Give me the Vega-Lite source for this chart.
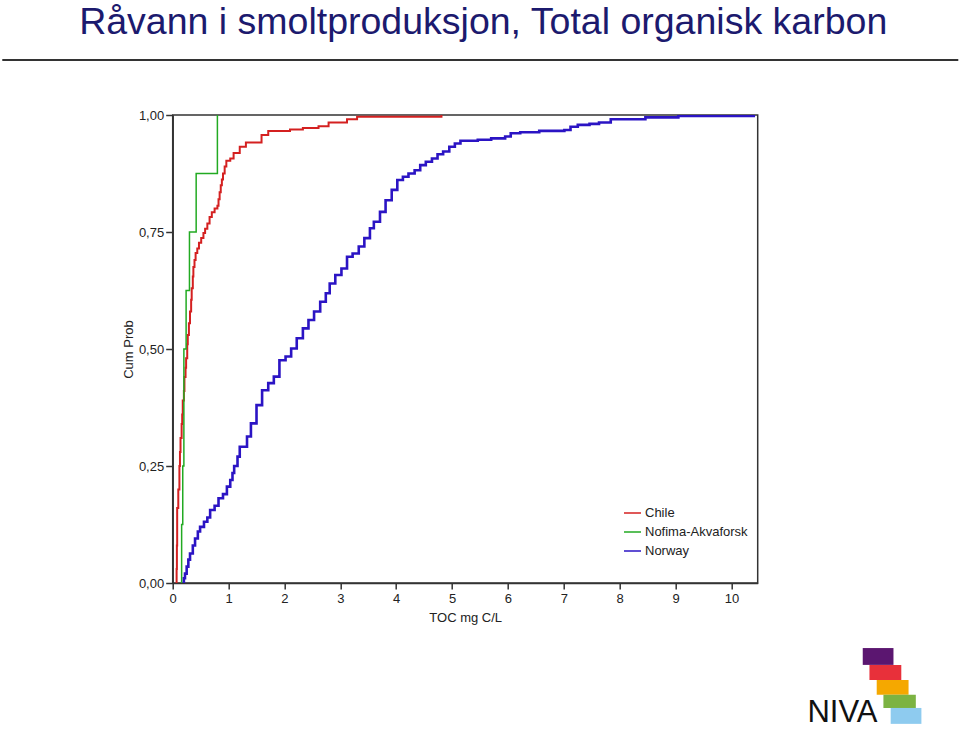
{
  "$schema": "https://vega.github.io/schema/vega-lite/v6.json",
  "width": 585,
  "height": 468,
  "autosize": {"type": "none"},
  "padding": {"left": 172.7, "top": 115, "right": 202.3, "bottom": 150},
  "background": "white",
  "data": {"values": [{}]},
  "config": {
    "font": "Liberation Sans",
    "view": {"stroke": "#333333", "strokeWidth": 1.5},
    "axis": {
      "labelFont": "Liberation Sans",
      "titleFont": "Liberation Sans",
      "labelFontSize": 13,
      "titleFontSize": 13,
      "titleFontWeight": "normal",
      "labelColor": "#222222",
      "titleColor": "#222222",
      "tickColor": "#333333",
      "domainColor": "#333333",
      "domainWidth": 1.5,
      "tickWidth": 1.5,
      "grid": false
    }
  },
  "title": {
    "text": "Råvann i smoltproduksjon, Total organisk karbon",
    "font": "Liberation Sans",
    "fontSize": 37.5,
    "fontWeight": "normal",
    "color": "#1c1a6e",
    "anchor": "middle",
    "frame": "group",
    "dx": 18,
    "dy": 31,
    "offset": 19,
    "baseline": "alphabetic"
  },
  "datasets": {
    "ecdf": [
      {"series": "Chile", "toc": 0.07, "cum": 0},
      {"series": "Chile", "toc": 0.07, "cum": 0.03},
      {"series": "Chile", "toc": 0.075, "cum": 0.08},
      {"series": "Chile", "toc": 0.08, "cum": 0.16},
      {"series": "Chile", "toc": 0.10, "cum": 0.20},
      {"series": "Chile", "toc": 0.12, "cum": 0.25},
      {"series": "Chile", "toc": 0.13, "cum": 0.28},
      {"series": "Chile", "toc": 0.14, "cum": 0.31},
      {"series": "Chile", "toc": 0.16, "cum": 0.34},
      {"series": "Chile", "toc": 0.17, "cum": 0.36},
      {"series": "Chile", "toc": 0.18, "cum": 0.39},
      {"series": "Chile", "toc": 0.20, "cum": 0.41},
      {"series": "Chile", "toc": 0.21, "cum": 0.44},
      {"series": "Chile", "toc": 0.23, "cum": 0.46},
      {"series": "Chile", "toc": 0.24, "cum": 0.48},
      {"series": "Chile", "toc": 0.26, "cum": 0.51},
      {"series": "Chile", "toc": 0.27, "cum": 0.53},
      {"series": "Chile", "toc": 0.29, "cum": 0.555},
      {"series": "Chile", "toc": 0.31, "cum": 0.58},
      {"series": "Chile", "toc": 0.33, "cum": 0.605},
      {"series": "Chile", "toc": 0.34, "cum": 0.63},
      {"series": "Chile", "toc": 0.36, "cum": 0.655},
      {"series": "Chile", "toc": 0.37, "cum": 0.675},
      {"series": "Chile", "toc": 0.39, "cum": 0.69},
      {"series": "Chile", "toc": 0.41, "cum": 0.705},
      {"series": "Chile", "toc": 0.44, "cum": 0.715},
      {"series": "Chile", "toc": 0.47, "cum": 0.727},
      {"series": "Chile", "toc": 0.51, "cum": 0.737},
      {"series": "Chile", "toc": 0.55, "cum": 0.748},
      {"series": "Chile", "toc": 0.58, "cum": 0.757},
      {"series": "Chile", "toc": 0.62, "cum": 0.768},
      {"series": "Chile", "toc": 0.66, "cum": 0.782},
      {"series": "Chile", "toc": 0.70, "cum": 0.792},
      {"series": "Chile", "toc": 0.75, "cum": 0.80},
      {"series": "Chile", "toc": 0.80, "cum": 0.806},
      {"series": "Chile", "toc": 0.82, "cum": 0.82},
      {"series": "Chile", "toc": 0.84, "cum": 0.835},
      {"series": "Chile", "toc": 0.86, "cum": 0.85},
      {"series": "Chile", "toc": 0.88, "cum": 0.862},
      {"series": "Chile", "toc": 0.90, "cum": 0.875},
      {"series": "Chile", "toc": 0.93, "cum": 0.89},
      {"series": "Chile", "toc": 0.96, "cum": 0.902},
      {"series": "Chile", "toc": 1.03, "cum": 0.907},
      {"series": "Chile", "toc": 1.09, "cum": 0.919},
      {"series": "Chile", "toc": 1.20, "cum": 0.932},
      {"series": "Chile", "toc": 1.31, "cum": 0.941},
      {"series": "Chile", "toc": 1.59, "cum": 0.957},
      {"series": "Chile", "toc": 1.71, "cum": 0.966},
      {"series": "Chile", "toc": 2.10, "cum": 0.969},
      {"series": "Chile", "toc": 2.33, "cum": 0.972},
      {"series": "Chile", "toc": 2.61, "cum": 0.976},
      {"series": "Chile", "toc": 2.79, "cum": 0.984},
      {"series": "Chile", "toc": 3.12, "cum": 0.991},
      {"series": "Chile", "toc": 3.30, "cum": 0.996},
      {"series": "Chile", "toc": 4.81, "cum": 1.0},
      {"series": "Nofima-Akvaforsk", "toc": 0.16, "cum": 0},
      {"series": "Nofima-Akvaforsk", "toc": 0.16, "cum": 0.125},
      {"series": "Nofima-Akvaforsk", "toc": 0.18, "cum": 0.25},
      {"series": "Nofima-Akvaforsk", "toc": 0.20, "cum": 0.5},
      {"series": "Nofima-Akvaforsk", "toc": 0.24, "cum": 0.625},
      {"series": "Nofima-Akvaforsk", "toc": 0.30, "cum": 0.75},
      {"series": "Nofima-Akvaforsk", "toc": 0.42, "cum": 0.875},
      {"series": "Nofima-Akvaforsk", "toc": 0.80, "cum": 1.0},
      {"series": "Norway", "toc": 0.18, "cum": 0},
      {"series": "Norway", "toc": 0.20, "cum": 0.01},
      {"series": "Norway", "toc": 0.22, "cum": 0.02},
      {"series": "Norway", "toc": 0.25, "cum": 0.035},
      {"series": "Norway", "toc": 0.28, "cum": 0.05},
      {"series": "Norway", "toc": 0.31, "cum": 0.063},
      {"series": "Norway", "toc": 0.36, "cum": 0.08},
      {"series": "Norway", "toc": 0.40, "cum": 0.095},
      {"series": "Norway", "toc": 0.45, "cum": 0.11},
      {"series": "Norway", "toc": 0.49, "cum": 0.12},
      {"series": "Norway", "toc": 0.56, "cum": 0.131},
      {"series": "Norway", "toc": 0.62, "cum": 0.14},
      {"series": "Norway", "toc": 0.67, "cum": 0.156},
      {"series": "Norway", "toc": 0.75, "cum": 0.165},
      {"series": "Norway", "toc": 0.82, "cum": 0.181},
      {"series": "Norway", "toc": 0.90, "cum": 0.19},
      {"series": "Norway", "toc": 0.97, "cum": 0.206},
      {"series": "Norway", "toc": 1.03, "cum": 0.22},
      {"series": "Norway", "toc": 1.07, "cum": 0.235},
      {"series": "Norway", "toc": 1.10, "cum": 0.25},
      {"series": "Norway", "toc": 1.16, "cum": 0.27},
      {"series": "Norway", "toc": 1.20, "cum": 0.291},
      {"series": "Norway", "toc": 1.33, "cum": 0.313},
      {"series": "Norway", "toc": 1.40, "cum": 0.341},
      {"series": "Norway", "toc": 1.50, "cum": 0.38},
      {"series": "Norway", "toc": 1.60, "cum": 0.412},
      {"series": "Norway", "toc": 1.71, "cum": 0.427},
      {"series": "Norway", "toc": 1.81, "cum": 0.441},
      {"series": "Norway", "toc": 1.91, "cum": 0.476},
      {"series": "Norway", "toc": 2.02, "cum": 0.484},
      {"series": "Norway", "toc": 2.12, "cum": 0.501},
      {"series": "Norway", "toc": 2.22, "cum": 0.523},
      {"series": "Norway", "toc": 2.33, "cum": 0.544},
      {"series": "Norway", "toc": 2.43, "cum": 0.562},
      {"series": "Norway", "toc": 2.53, "cum": 0.58},
      {"series": "Norway", "toc": 2.64, "cum": 0.601},
      {"series": "Norway", "toc": 2.74, "cum": 0.619},
      {"series": "Norway", "toc": 2.81, "cum": 0.64},
      {"series": "Norway", "toc": 2.91, "cum": 0.658},
      {"series": "Norway", "toc": 3.02, "cum": 0.672},
      {"series": "Norway", "toc": 3.12, "cum": 0.697},
      {"series": "Norway", "toc": 3.22, "cum": 0.704},
      {"series": "Norway", "toc": 3.33, "cum": 0.719},
      {"series": "Norway", "toc": 3.43, "cum": 0.737},
      {"series": "Norway", "toc": 3.53, "cum": 0.758},
      {"series": "Norway", "toc": 3.60, "cum": 0.772},
      {"series": "Norway", "toc": 3.71, "cum": 0.793},
      {"series": "Norway", "toc": 3.81, "cum": 0.818},
      {"series": "Norway", "toc": 3.92, "cum": 0.84},
      {"series": "Norway", "toc": 4.02, "cum": 0.861},
      {"series": "Norway", "toc": 4.12, "cum": 0.868},
      {"series": "Norway", "toc": 4.22, "cum": 0.875},
      {"series": "Norway", "toc": 4.33, "cum": 0.882},
      {"series": "Norway", "toc": 4.43, "cum": 0.893},
      {"series": "Norway", "toc": 4.53, "cum": 0.90},
      {"series": "Norway", "toc": 4.64, "cum": 0.907},
      {"series": "Norway", "toc": 4.74, "cum": 0.916},
      {"series": "Norway", "toc": 4.84, "cum": 0.922},
      {"series": "Norway", "toc": 4.95, "cum": 0.932},
      {"series": "Norway", "toc": 5.05, "cum": 0.939},
      {"series": "Norway", "toc": 5.15, "cum": 0.945},
      {"series": "Norway", "toc": 5.46, "cum": 0.947},
      {"series": "Norway", "toc": 5.70, "cum": 0.95},
      {"series": "Norway", "toc": 5.95, "cum": 0.954},
      {"series": "Norway", "toc": 6.05, "cum": 0.961},
      {"series": "Norway", "toc": 6.22, "cum": 0.963},
      {"series": "Norway", "toc": 6.56, "cum": 0.966},
      {"series": "Norway", "toc": 7.01, "cum": 0.968},
      {"series": "Norway", "toc": 7.12, "cum": 0.975},
      {"series": "Norway", "toc": 7.25, "cum": 0.979},
      {"series": "Norway", "toc": 7.46, "cum": 0.981},
      {"series": "Norway", "toc": 7.63, "cum": 0.984},
      {"series": "Norway", "toc": 7.84, "cum": 0.991},
      {"series": "Norway", "toc": 8.46, "cum": 0.995},
      {"series": "Norway", "toc": 9.05, "cum": 0.998},
      {"series": "Norway", "toc": 10.40, "cum": 1.0}
    ]
  },
  "layer": [
    {
      "mark": {"type": "rule", "color": "#333333", "strokeWidth": 2, "clip": false},
      "encoding": {
        "x": {"datum": -3.05, "type": "quantitative", "scale": {"domain": [0, 10.47], "nice": false, "zero": false}},
        "x2": {"datum": 14.06},
        "y": {"datum": 1.1175, "type": "quantitative", "scale": {"domain": [0, 1], "nice": false, "zero": false}}
      }
    },
    {
      "data": {"name": "ecdf"},
      "mark": {"type": "line", "interpolate": "step-after", "clip": true},
      "encoding": {
        "x": {
          "field": "toc",
          "type": "quantitative",
          "scale": {"domain": [0, 10.47], "nice": false, "zero": false},
          "axis": {
            "title": "TOC mg C/L",
            "values": [0, 0.5, 1, 1.5, 2, 2.5, 3, 3.5, 4, 4.5, 5, 5.5, 6, 6.5, 7, 7.5, 8, 8.5, 9, 9.5, 10],
            "labelExpr": "datum.value % 1 === 0 ? format(datum.value, 'd') : ''",
            "tickSize": {"condition": {"test": "datum.value % 1 !== 0", "value": 4}, "value": 6},
            "labelPadding": 3,
            "titlePadding": 6,
            "labelFlush": false
          }
        },
        "y": {
          "field": "cum",
          "type": "quantitative",
          "scale": {"domain": [0, 1], "nice": false, "zero": false},
          "axis": {
            "title": "Cum Prob",
            "values": [0, 0.25, 0.5, 0.75, 1],
            "labelExpr": "replace(format(datum.value, '.2f'), '.', ',')",
            "tickSize": 7,
            "labelPadding": 2,
            "titlePadding": 3,
            "labelFlush": false
          }
        },
        "order": {"field": "cum", "type": "quantitative"},
        "color": {
          "field": "series",
          "type": "nominal",
          "scale": {"domain": ["Chile", "Nofima-Akvaforsk", "Norway"], "range": ["#d42020", "#22aa22", "#2b14c4"]},
          "legend": {
            "title": null,
            "orient": "none",
            "legendX": 450.3,
            "legendY": 388.5,
            "symbolType": "stroke",
            "symbolSize": 289,
            "symbolStrokeWidth": 1.5,
            "labelFontSize": 13,
            "labelFont": "Liberation Sans",
            "labelColor": "#222222",
            "labelOffset": 3,
            "rowPadding": 2
          }
        },
        "strokeWidth": {
          "condition": [
            {"test": "datum.series === 'Norway'", "value": 2.6},
            {"test": "datum.series === 'Chile'", "value": 2}
          ],
          "value": 1.5
        }
      }
    },
    {
      "mark": {"type": "rect", "color": "#5b1670", "clip": false},
      "encoding": {"x": {"datum": 12.35, "type": "quantitative"}, "x2": {"datum": 12.90}, "y": {"datum": -0.139, "type": "quantitative"}, "y2": {"datum": -0.175}}
    },
    {
      "mark": {"type": "rect", "color": "#e8303a", "clip": false},
      "encoding": {"x": {"datum": 12.47, "type": "quantitative"}, "x2": {"datum": 13.04}, "y": {"datum": -0.175, "type": "quantitative"}, "y2": {"datum": -0.207}}
    },
    {
      "mark": {"type": "rect", "color": "#f5a800", "clip": false},
      "encoding": {"x": {"datum": 12.60, "type": "quantitative"}, "x2": {"datum": 13.17}, "y": {"datum": -0.207, "type": "quantitative"}, "y2": {"datum": -0.239}}
    },
    {
      "mark": {"type": "rect", "color": "#7cb342", "clip": false},
      "encoding": {"x": {"datum": 12.72, "type": "quantitative"}, "x2": {"datum": 13.30}, "y": {"datum": -0.239, "type": "quantitative"}, "y2": {"datum": -0.267}}
    },
    {
      "mark": {"type": "rect", "color": "#8ecbef", "clip": false},
      "encoding": {"x": {"datum": 12.85, "type": "quantitative"}, "x2": {"datum": 13.40}, "y": {"datum": -0.267, "type": "quantitative"}, "y2": {"datum": -0.301}}
    },
    {
      "mark": {"type": "text", "text": "NIVA", "font": "Liberation Sans", "fontSize": 31, "color": "#111111", "align": "left", "baseline": "alphabetic", "clip": false},
      "encoding": {"x": {"datum": 11.36, "type": "quantitative"}, "y": {"datum": -0.297, "type": "quantitative"}}
    }
  ]
}
